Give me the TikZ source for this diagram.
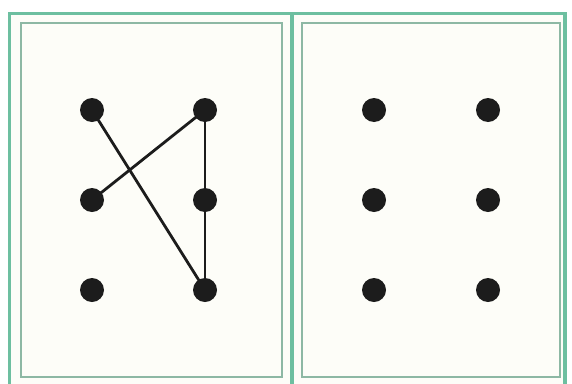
\documentclass[tikz,border=0pt]{standalone}
\definecolor{framegreen}{HTML}{6DBFA0}
\definecolor{innergreen}{HTML}{8DB8A4}
\definecolor{paper}{HTML}{FDFDF8}
\definecolor{dotcol}{HTML}{1C1C1C}
\begin{document}
\begin{tikzpicture}[x=1pt,y=-1pt,
  outerline/.style={draw=framegreen,line width=3.2pt},
  innerline/.style={draw=innergreen,line width=2pt},
  dot/.style={circle,fill=dotcol,minimum size=24pt,inner sep=0pt},
  link/.style={draw=dotcol,line width=2.8pt}]
\useasboundingbox (0,0) rectangle (572,383);
\fill[white] (0,0) rectangle (572,383);
% outer frame
\fill[paper] (9.5,13.5) rectangle (565,390);
\draw[outerline] (9.5,392) -- (9.5,13.5) -- (565,13.5) -- (565,392);
\draw[outerline] (292,13.5) -- (292,392);
% inner panels
\draw[innerline] (21,23) rectangle (282,377);
\draw[innerline] (302,23) rectangle (560,377);
% left panel dots
\node[dot] (a1) at (92,110) {};
\node[dot] (a2) at (205,110) {};
\node[dot] (b1) at (92,200) {};
\node[dot] (b2) at (205,200) {};
\node[dot] (c1) at (92,290) {};
\node[dot] (c2) at (205,290) {};
% right panel dots
\node[dot] (d1) at (374,110) {};
\node[dot] (d2) at (488,110) {};
\node[dot] (e1) at (374,200) {};
\node[dot] (e2) at (488,200) {};
\node[dot] (f1) at (374,290) {};
\node[dot] (f2) at (488,290) {};
% connectors
\draw[link] (a1.center) -- (c2.center);
\draw[link] (b1.center) -- (a2.center);
\draw[link] (a2.center) -- (c2.center);
\end{tikzpicture}
\end{document}
